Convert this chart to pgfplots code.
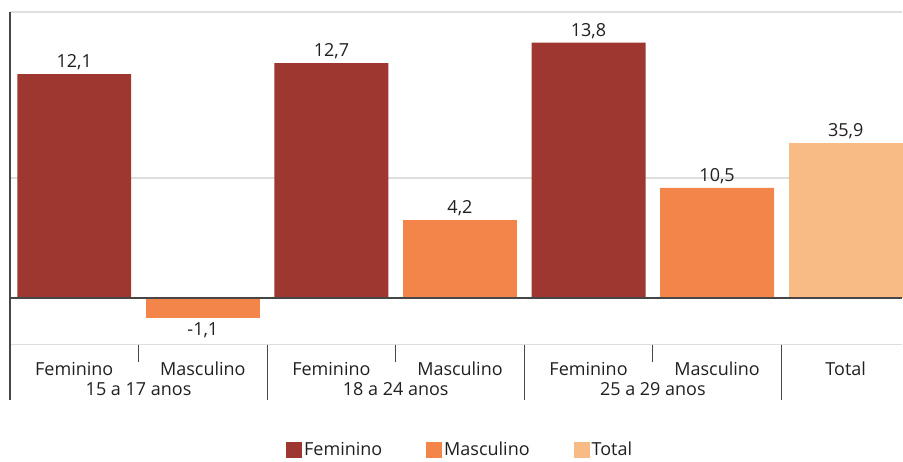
\documentclass[border=0pt]{standalone}
\usepackage{fontspec}
\setmainfont{Open Sans}
\usepackage{pgfplots}
\pgfplotsset{compat=1.18}
\definecolor{fem}{RGB}{158,55,48}
\definecolor{masc}{RGB}{244,133,74}
\definecolor{tot}{RGB}{249,187,134}
\definecolor{txt}{RGB}{35,31,32}
\definecolor{grd}{RGB}{222,222,222}
\definecolor{axl}{RGB}{70,70,70}
\newcommand{\fs}{\fontsize{18bp}{21bp}\selectfont}

\begin{document}
\begin{tikzpicture}[font=\fs]
\begin{axis}[
    scale only axis,
    width=893bp, height=333bp,
    xmin=-0.5, xmax=6.44,
    ymin=-2.54, ymax=15.46,
    ybar, bar width=114bp,
    axis line style={draw=none},
    ytick={6.49}, yticklabels={},
    ymajorgrids, grid style={grd, line width=1.5bp},
    major tick length=0pt,
    xtick={0,...,6},
    xticklabels={Feminino,Masculino,Feminino,Masculino,Feminino,Masculino,Total},
    ticklabel style={font=\fs, text=txt},
    xticklabel style={yshift=-14bp},
    nodes near coords, point meta=explicit symbolic,
    every node near coord/.append style={font=\fs, text=txt, inner sep=4bp},
    clip=false,
    legend style={at={(0.5,0)}, anchor=center, xshift=4bp, yshift=-105bp, draw=none,
        font=\fs, text=txt, legend columns=-1,
        /tikz/every even column/.append style={column sep=42bp}},
    legend image code/.code={\fill[#1] (0bp,-8bp) rectangle (16bp,8bp);},
]
% valores do grafico (altura das barras 10,5 e Total como desenhadas no original)
\addplot[fill=fem, draw=none, bar shift=0pt] coordinates {(0,12.1) [12,1] (2,12.7) [12,7] (4,13.8) [13,8]};
\addlegendentry{Feminino}
\addplot[fill=masc, draw=none, bar shift=0pt] coordinates {(3,4.2) [4,2] (5,5.95) [10,5]};
\addlegendentry{Masculino}
\addplot[fill=tot, draw=none, bar shift=0pt] coordinates {(6,8.38) [35,9]};
\addlegendentry{Total}
\addplot[fill=masc, draw=none, bar shift=0pt, forget plot,
    every node near coord/.append style={anchor=north}] coordinates {(1,-1.1) [-1,1]};

\draw[grd, line width=1.5bp] (axis cs:-0.5,15.46) -- (axis cs:6.44,15.46);
\draw[grd, line width=1.5bp] (axis cs:-0.5,-2.54) -- (axis cs:6.44,-2.54);
\draw[axl, line width=1.5bp] (axis cs:-0.5,0) -- (axis cs:6.44,0);
\draw[axl, line width=1.5bp] (axis cs:-0.5,15.46) -- ([yshift=-55bp]axis cs:-0.5,-2.54);
% separadores
\draw[axl, line width=1.2bp] (axis cs:0.5,-2.54) -- ([yshift=-17bp]axis cs:0.5,-2.54);
\draw[axl, line width=1.2bp] (axis cs:2.5,-2.54) -- ([yshift=-17bp]axis cs:2.5,-2.54);
\draw[axl, line width=1.2bp] (axis cs:4.5,-2.54) -- ([yshift=-17bp]axis cs:4.5,-2.54);
\draw[axl, line width=1.2bp] (axis cs:1.5,-2.54) -- ([yshift=-55bp]axis cs:1.5,-2.54);
\draw[axl, line width=1.2bp] (axis cs:3.5,-2.54) -- ([yshift=-55bp]axis cs:3.5,-2.54);
\draw[axl, line width=1.2bp] (axis cs:5.5,-2.54) -- ([yshift=-55bp]axis cs:5.5,-2.54);
% grupos de idade
\node[text=txt] at ([yshift=-44bp]axis cs:0.5,-2.54) {15 a 17 anos};
\node[text=txt] at ([yshift=-44bp]axis cs:2.5,-2.54) {18 a 24 anos};
\node[text=txt] at ([yshift=-44bp]axis cs:4.5,-2.54) {25 a 29 anos};
\end{axis}
\path (current axis.south west) ++(-10bp,-113bp);
\path (current axis.north east) ++(0,12bp);
\end{tikzpicture}
\end{document}
